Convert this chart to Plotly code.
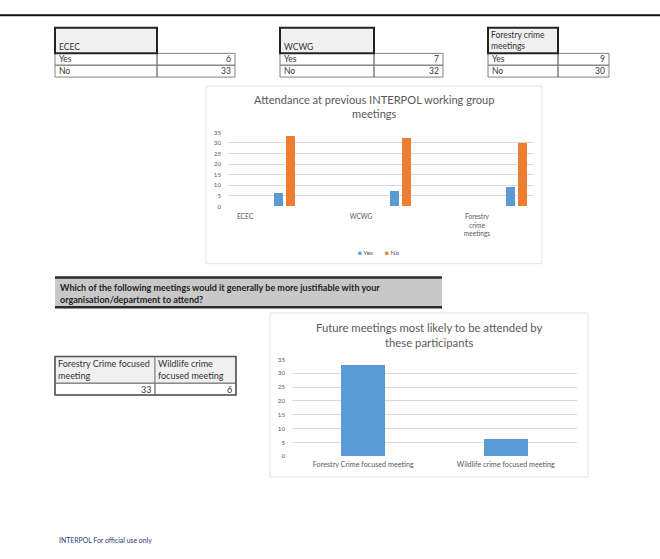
import plotly.graph_objects as go

# ---------------- data ----------------
meetings = ["ECEC", "WCWG", "Forestry crime meetings"]
meeting_headers = ["ECEC", "WCWG", "Forestry crime<br>meetings"]
meeting_ticks = ["ECEC", "WCWG", "Forestry<br>crime<br>meetings"]
yes_counts = [6, 7, 9]
no_counts = [33, 32, 30]
answer_labels = ["Yes", "No"]

future_categories = ["Forestry Crime focused meeting", "Wildlife crime focused meeting"]
future_headers = ["Forestry Crime focused<br>meeting", "Wildlife crime<br>focused meeting"]
future_counts = [33, 6]

y_ticks = [0, 5, 10, 15, 20, 25, 30, 35]

title1 = "Attendance at previous INTERPOL working group<br>meetings"
title2 = "Future meetings most likely to be attended by<br>these participants"
question = ("Which of the following meetings would it generally be more justifiable with your<br>"
            "organisation/department to attend?")
footer = "INTERPOL For official use only"

# ---------------- style ----------------
W, H = 660, 559
FONT = "Lato"
BLUE = "#5B9BD5"
ORANGE = "#ED7D31"
GRID = "#d9d9d9"
TXT = "#595959"
CELL = "#333333"
TS = 9  # table font size


def px(x):
    return x / W


def py(y):
    return 1 - y / H


fig = go.Figure()
shapes = []
annotations = []


def rect(x0, y0, x1, y1, line_color="#808080", width=1, fill=None, layer="above"):
    shapes.append(dict(type="rect", xref="paper", yref="paper",
                       x0=px(x0), x1=px(x1), y0=py(y1), y1=py(y0),
                       line=dict(color=line_color, width=width),
                       fillcolor=fill if fill else "rgba(0,0,0,0)", layer=layer))


def text(x, y, s, size=TS, color=CELL, xanchor="left", yanchor="middle", bold=False, align="left"):
    if bold:
        s = "<b>" + s.replace("<br>", "</b><br><b>") + "</b>"
    annotations.append(dict(x=px(x), y=py(y), xref="paper", yref="paper", text=s,
                            showarrow=False, xanchor=xanchor, yanchor=yanchor, align=align,
                            font=dict(family=FONT, size=size, color=color)))


# top rule
shapes.append(dict(type="line", xref="paper", yref="paper", x0=0, x1=1, y0=py(11.5), y1=py(11.5),
                   line=dict(color="#111111", width=2)))

# ---------------- top tables ----------------
tables = [(55, 157, 235), (280, 374, 443), (488, 558, 609)]
for i, (x0, xm, x1) in enumerate(tables):
    top, hb, r1, r2 = 24, 50, 62, 74
    rect(x0, hb, xm, r1)
    rect(xm, hb, x1, r1)
    rect(x0, r1, xm, r2)
    rect(xm, r1, x1, r2)
    rect(x0, top, xm, hb, line_color="#222222", width=2, fill="#f0f0f0")
    hdr = meeting_headers[i]
    if "<br>" in hdr:
        text(x0 + 1, (top + hb) / 2, hdr, size=8.5)
    else:
        text(x0 + 2, hb - 6, hdr, size=8.5)
    vals = [yes_counts[i], no_counts[i]]
    for j, lab in enumerate(answer_labels):
        yc = (hb + r1) / 2 if j == 0 else (r1 + r2) / 2
        text(x0 + 2, yc, lab, size=8.5)
        text(x1 - 2, yc, str(vals[j]), size=8.5, xanchor="right")

# ---------------- chart 1 ----------------
rect(206, 83, 542, 263, line_color="#e3e3e3", width=1, layer="below")
text(374, 104, title1, size=11.1, color=TXT, xanchor="center", align="center")

pos = list(range(len(meetings)))
fig.add_trace(go.Bar(x=[p + 0.29 for p in pos], y=yes_counts, width=0.078, name="Yes",
                     marker=dict(color=BLUE, line=dict(width=0)), showlegend=False,
                     xaxis="x", yaxis="y"))
fig.add_trace(go.Bar(x=[p + 0.39 for p in pos], y=no_counts, width=0.078, name="No",
                     marker=dict(color=ORANGE, line=dict(width=0)), showlegend=False,
                     xaxis="x", yaxis="y"))

# legend (chart 1)
text(356, 252, '<span style="color:%s">■</span> Yes' % BLUE, size=6.5, color=TXT)
text(383, 252, '<span style="color:%s">■</span> No' % ORANGE, size=6.5, color=TXT)

# ---------------- question box ----------------
rect(55, 277, 442, 307, line_color="rgba(0,0,0,0)", width=0, fill="#c8c8c8")
for yy in (277, 307):
    shapes.append(dict(type="line", xref="paper", yref="paper", x0=px(55), x1=px(442),
                       y0=py(yy), y1=py(yy), line=dict(color="#2a2a2a", width=2.5)))
text(58, 293, question, size=9, color="#222222", bold=True)

# ---------------- table 2 ----------------
t0, tm, t1 = 55, 155, 236
rect(t0, 357, tm, 384, fill="#f0f0f0")
rect(tm, 357, t1, 384, fill="#f0f0f0")
rect(t0, 384, tm, 396)
rect(tm, 384, t1, 396)
rect(t0, 357, t1, 396, line_color="#555555", width=1.5)
text(t0 + 1, 370.5, future_headers[0], size=TS)
text(tm + 1, 370.5, future_headers[1], size=TS)
text(tm - 2, 390, str(future_counts[0]), size=TS, xanchor="right")
text(t1 - 2, 390, str(future_counts[1]), size=TS, xanchor="right")

# ---------------- chart 2 ----------------
rect(270, 313, 588, 479, line_color="#e3e3e3", width=1, layer="below")
text(429, 335, title2, size=11.3, color=TXT, xanchor="center", align="center")

fig.add_trace(go.Bar(x=future_categories, y=future_counts, width=0.31,
                     marker=dict(color=BLUE, line=dict(width=0)), showlegend=False,
                     xaxis="x2", yaxis="y2"))

# footer
text(57, 543, footer, size=6.9, color="#2b3a78")

# ---------------- axes ----------------
x1_left = (228 - 245) / 116
x1_right = (533 - 245) / 116
common_y = dict(range=[0, 35], tickvals=y_ticks, showgrid=True, gridcolor=GRID, gridwidth=1,
                zeroline=False, showline=False, ticks="", fixedrange=True,
                tickfont=dict(family=FONT, size=6.2, color=TXT))

fig.update_layout(
    width=W, height=H, margin=dict(l=0, r=0, t=0, b=0),
    paper_bgcolor="white", plot_bgcolor="rgba(0,0,0,0)",
    showlegend=False, bargap=0,
    font=dict(family=FONT, color=TXT),
    xaxis=dict(domain=[px(228), px(533)], range=[x1_left, x1_right], tickmode="array",
               tickvals=pos, ticktext=meeting_ticks, showgrid=False, zeroline=False,
               showline=False, ticks="", anchor="y", ticklabelstandoff=5,
               tickfont=dict(family=FONT, size=6.6, color=TXT)),
    yaxis=dict(domain=[py(205), py(130)], anchor="x", ticklabelstandoff=6, **common_y),
    xaxis2=dict(domain=[px(292), px(577)], showgrid=False, zeroline=False, showline=False,
                ticks="", anchor="y2", ticklabelstandoff=3,
                tickfont=dict(family=FONT, size=7.2, color=TXT)),
    yaxis2=dict(domain=[py(458), py(360)], anchor="x2", ticklabelstandoff=6, **common_y),
    shapes=shapes, annotations=annotations,
)

fig.write_html("out.html")
